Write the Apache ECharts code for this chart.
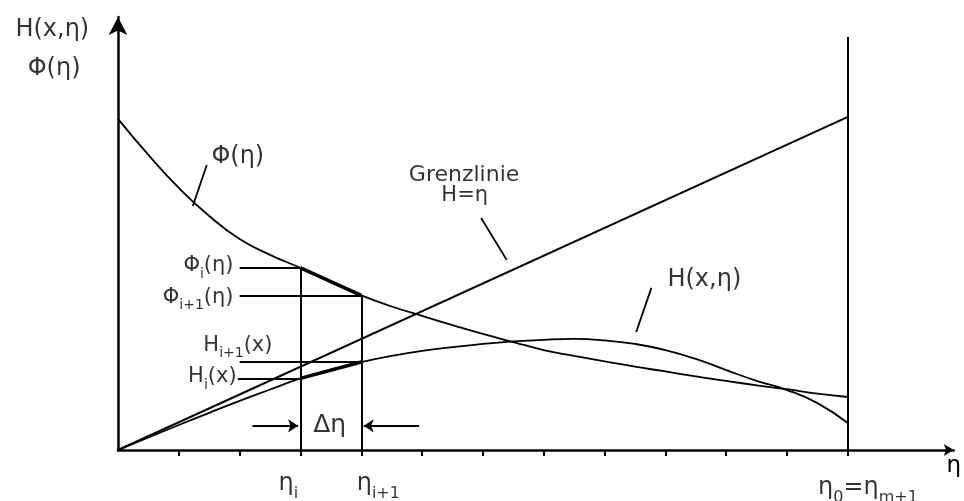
<!DOCTYPE html>
<html>
<head>
<meta charset="utf-8">
<script src="https://cdn.jsdelivr.net/npm/echarts@6/dist/echarts.min.js"></script>
<style>
  html, body { margin: 0; padding: 0; background: #fff; }
  #chart { width: 964px; height: 501px; }
</style>
</head>
<body>
<div id="chart"></div>
<script>
// η is measured in grid steps; the ordinate is scaled so the boundary line reads H = η.
const etaTicks = [1, 2, 3, 4, 5, 6, 7, 8, 9, 10, 11, 12];

// sample abscissae shared by both curves
const etaGrid = [0, 0.5, 1, 1.5, 2, 2.5, 3, 3.5, 4, 4.5, 5, 5.5, 6, 6.5, 7, 7.5, 8, 8.5, 9, 9.5, 10, 10.5, 11, 11.5, 12];

// Φ(η) curve
const phiVal = [11.93, 10.63, 9.44, 8.43, 7.6, 7.03, 6.56, 6.05, 5.57, 5.17, 4.83, 4.5, 4.18, 3.89, 3.6, 3.39, 3.19, 3.0, 2.83, 2.65, 2.49, 2.33, 2.19, 2.03, 1.91];

// H(x,η) curve
const hVal = [0, 0.45, 0.9, 1.34, 1.77, 2.18, 2.58, 2.9, 3.17, 3.39, 3.57, 3.71, 3.82, 3.91, 3.97, 4.0, 3.95, 3.82, 3.6, 3.28, 2.88, 2.49, 2.16, 1.69, 0.97];

// Grenzlinie H = η
const boundaryEta = [0, 12];
const boundaryVal = [0, 12];

// step η_i → η_{i+1}, outer border η0 = η_{m+1}
const etaI = 3;
const etaI1 = 4;
const eta0 = 12;
const eta0Top = 14.88;

const zip = (xs, ys) => xs.map((x, k) => [x, ys[k]]);
const phiAt = e => phiVal[etaGrid.indexOf(e)];
const hAt = e => hVal[etaGrid.indexOf(e)];

const phiI = phiAt(etaI), phiI1 = phiAt(etaI1);
const hI = hAt(etaI), hI1 = hAt(etaI1);

const FONT = 'DejaVu Sans';
const INK = '#000';

const rich = size => ({
  m: { fontFamily: FONT, fontSize: size, color: INK, textBorderWidth: 0, lineHeight: Math.round(size * 1.45) },
  s: { fontFamily: FONT, fontSize: Math.round(size * 0.68), color: INK, textBorderWidth: 0, verticalAlign: 'bottom', lineHeight: Math.round(size * 0.7) }
});

function note(x, y, text, size, align) {
  return {
    value: [x, y],
    label: {
      show: true,
      position: 'inside',
      align: align || 'center',
      verticalAlign: 'middle',
      formatter: text,
      color: INK,
      textBorderWidth: 0,
      fontFamily: FONT,
      fontSize: size,
      rich: rich(size)
    }
  };
}

const seg = (a, b) => ({ coords: [a, b] });

const chart = echarts.init(document.getElementById('chart'), null, { renderer: 'canvas' });

chart.setOption({
  animation: false,
  backgroundColor: '#fff',
  grid: { left: 118, right: 8, top: 17, bottom: 51 },
  xAxis: {
    type: 'value',
    min: 0,
    max: 13.74,
    name: 'η',
    nameLocation: 'end',
    nameGap: 0,
    nameTextStyle: { fontFamily: FONT, fontSize: 23, color: INK, align: 'center', verticalAlign: 'top', padding: [5, 0, 0, 0] },
    axisLine: { show: true, onZero: false, symbol: ['none', 'arrow'], symbolSize: [9, 10], lineStyle: { color: INK, width: 2.5 } },
    axisTick: { show: true, customValues: etaTicks, length: 6, lineStyle: { color: INK, width: 2 } },
    axisLabel: { show: false },
    splitLine: { show: false }
  },
  yAxis: {
    type: 'value',
    min: 0,
    max: 15.6,
    axisLine: { show: true, onZero: false, symbol: ['none', 'arrow'], symbolSize: [14, 18], lineStyle: { color: INK, width: 2.5 } },
    axisTick: { show: false },
    axisLabel: { show: false },
    splitLine: { show: false }
  },
  series: [
    {
      name: 'Grenzlinie',
      type: 'line',
      data: zip(boundaryEta, boundaryVal),
      showSymbol: false,
      lineStyle: { color: INK, width: 2 }
    },
    {
      name: 'Φ(η)',
      type: 'line',
      data: zip(etaGrid, phiVal),
      smooth: 0.5,
      showSymbol: false,
      lineStyle: { color: INK, width: 1.8 }
    },
    {
      name: 'H(x,η)',
      type: 'line',
      data: zip(etaGrid, hVal),
      smooth: 0.5,
      showSymbol: false,
      lineStyle: { color: INK, width: 1.8 }
    },
    {
      // border line, step verticals and level guides
      type: 'lines',
      coordinateSystem: 'cartesian2d',
      silent: true,
      lineStyle: { color: INK, width: 2, opacity: 1, curveness: 0 },
      data: [
        seg([eta0, 0], [eta0, eta0Top]),
        seg([etaI, 0], [etaI, phiI]),
        seg([etaI1, 0], [etaI1, phiI1]),
        seg([2.0, phiI], [etaI, phiI]),
        seg([2.0, phiI1], [etaI1, phiI1]),
        seg([2.0, hI1], [etaI1, hI1]),
        seg([1.97, hI], [etaI, hI])
      ]
    },
    {
      // secants over one step
      type: 'lines',
      coordinateSystem: 'cartesian2d',
      silent: true,
      lineStyle: { color: INK, width: 3.5, opacity: 1, curveness: 0 },
      data: [
        seg([etaI, phiI], [etaI1, phiI1]),
        seg([etaI, hI], [etaI1, hI1])
      ]
    },
    {
      // label pointers
      type: 'lines',
      coordinateSystem: 'cartesian2d',
      silent: true,
      lineStyle: { color: INK, width: 1.8, opacity: 1, curveness: 0 },
      data: [
        seg([1.46, 10.27], [1.23, 8.79]),
        seg([5.97, 8.36], [6.39, 6.85]),
        seg([8.77, 5.84], [8.52, 4.25])
      ]
    },
    {
      // Δη arrows
      type: 'lines',
      coordinateSystem: 'cartesian2d',
      silent: true,
      symbol: ['none', 'arrow'],
      symbolSize: 10,
      lineStyle: { color: INK, width: 1.8, opacity: 1, curveness: 0 },
      data: [
        seg([2.21, 0.87], [etaI - 0.04, 0.87]),
        seg([4.95, 0.87], [etaI1 + 0.04, 0.87])
      ]
    },
    {
      type: 'scatter',
      symbolSize: 0,
      clip: false,
      silent: true,
      data: [
        note(-1.08, 15.14, 'H(x,η)', 24),
        note(-1.05, 13.73, 'Φ(η)', 24),
        note(1.97, 10.56, 'Φ(η)', 24),
        note(5.69, 9.91, 'Grenzlinie', 22),
        note(5.70, 9.15, 'H=η', 21),
        note(9.64, 6.13, 'H(x,η)', 24),
        note(1.90, 6.63, '{m|Φ}{s|i}{m|(η)}', 21, 'right'),
        note(1.90, 5.50, '{m|Φ}{s|i+1}{m|(η)}', 21, 'right'),
        note(2.54, 3.78, '{m|H}{s|i+1}{m|(x)}', 21, 'right'),
        note(1.95, 2.63, '{m|H}{s|i}{m|(x)}', 21, 'right'),
        note(3.48, 0.90, 'Δη', 25),
        note(etaI - 0.2, -1.23, '{m|η}{s|i}', 24),
        note(etaI1 + 0.28, -1.23, '{m|η}{s|i+1}', 24),
        note(eta0 + 0.33, -1.37, '{m|η}{s|0}{m|=η}{s|m+1}', 24)
      ]
    }
  ]
});
</script>
</body>
</html>
